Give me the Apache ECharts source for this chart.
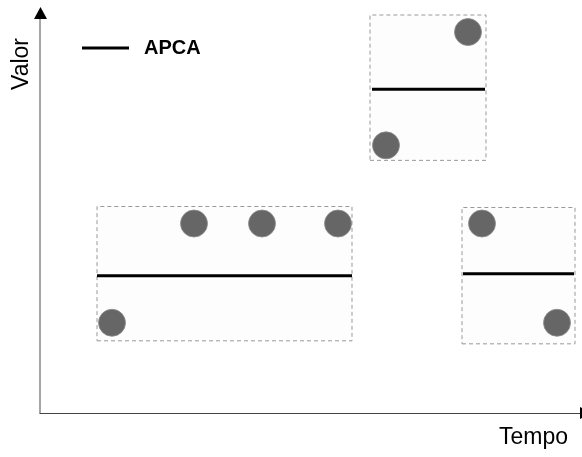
<!DOCTYPE html>
<html><head><meta charset="utf-8">
<script src="https://cdn.jsdelivr.net/npm/echarts@6/dist/echarts.min.js"></script>
<style>html,body{margin:0;padding:0;background:#fff}#c{width:582px;height:457px}</style>
</head><body><div id="c"></div>
<script>
// Groups (time windows) and their values
const groupNames = ['G1', 'G2', 'G3'];
const groupXRange = [[57, 312], [330, 446], [422, 535]];
const groupYRange = [[72, 206], [252, 397], [69, 205]];
const groupMean = [137, 323, 139];
const lineXRange = [[57, 312], [332, 445], [423, 534]];
const pointX = [72, 154, 222, 298, 346, 428, 442, 517];
const pointY = [90, 189, 189, 189, 267, 380, 189, 90];
const xLabel = 'Tempo';
const yLabel = 'Valor';
const legendLabel = 'APCA';

const chart = echarts.init(document.getElementById('c'), null, {renderer: 'canvas'});
const FONT = 'Liberation Sans, Arial, sans-serif';

const series = [];
series.push({
  type: 'scatter', name: 'pts', symbolSize: 27,
  itemStyle: {color: '#666666', opacity: 1, borderColor: '#8a8a8a', borderWidth: 0.8},
  data: pointX.map((x, i) => [x, pointY[i]]),
  z: 3,
  markArea: {
    silent: true,
    itemStyle: {color: '#fdfdfd', borderColor: '#999999', borderWidth: 1, borderType: [4, 3]},
    data: groupXRange.map((r, i) => [{coord: [r[0], groupYRange[i][0]]}, {coord: [r[1], groupYRange[i][1]]}])
  }
});
groupNames.forEach((g, i) => {
  series.push({
    type: 'line', name: i === 0 ? legendLabel : g, symbol: 'none',
    lineStyle: {color: '#000', width: 3}, itemStyle: {color: '#000'},
    data: [[lineXRange[i][0], groupMean[i]], [lineXRange[i][1], groupMean[i]]],
    z: 4, silent: true
  });
});

chart.setOption({
  animation: false,
  grid: {left: 40, right: 2, top: 10, bottom: 44},
  legend: {
    data: [{name: legendLabel, icon: 'rect'}],
    left: 77, top: 33, itemWidth: 47, itemHeight: 3, itemGap: 12,
    textStyle: {fontFamily: FONT, fontSize: 20, fontWeight: 'bold', color: '#000', padding: [0, 0, 0, 10]}
  },
  xAxis: {
    type: 'value', min: 0, max: 540,
    axisLine: {show: true, symbol: 'none', lineStyle: {color: '#444', width: 1}},
    axisTick: {show: false}, axisLabel: {show: false}, splitLine: {show: false}
  },
  yAxis: {
    type: 'value', min: 0, max: 402,
    axisLine: {show: true, symbol: 'none', lineStyle: {color: '#888', width: 1.5}},
    axisTick: {show: false}, axisLabel: {show: false}, splitLine: {show: false}
  },
  graphic: [
    {type: 'polygon', shape: {points: [[34, 19], [47, 19], [40.5, 7]]}, style: {fill: '#000'}, z: 10},
    {type: 'polygon', shape: {points: [[580, 407], [580, 419], [592, 413]]}, style: {fill: '#000'}, z: 10},
    {type: 'text', left: 499, top: 426, style: {text: xLabel, font: '23px ' + FONT, fill: '#000'}},
    {type: 'text', x: 10, y: 90, rotation: Math.PI / 2, style: {text: yLabel, font: '23px ' + FONT, fill: '#000'}}
  ],
  series: series
});
</script></body></html>
